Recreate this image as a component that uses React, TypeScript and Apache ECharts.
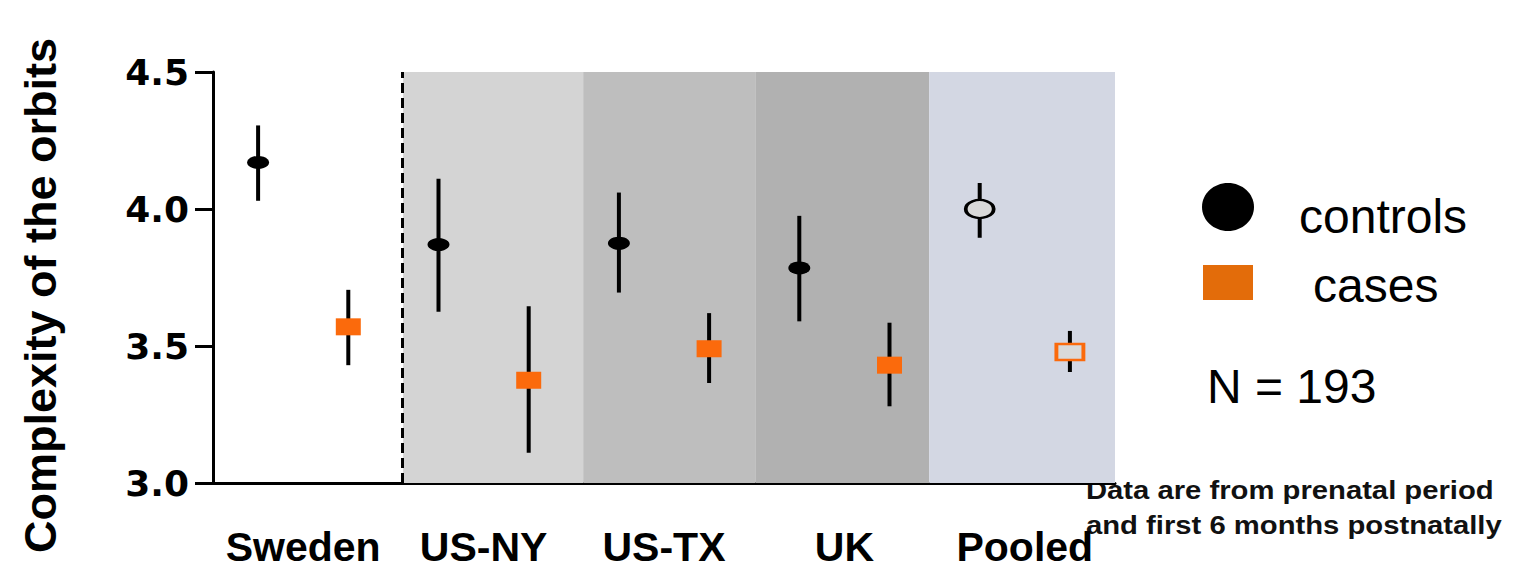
import React, { useEffect, useRef } from "react";
import * as echarts from "echarts";

const categories = ["Sweden", "US-NY", "US-TX", "UK", "Pooled"];
const controlsMean = [4.17, 3.87, 3.875, 3.785, 4.0];
const controlsLow = [4.03, 3.625, 3.695, 3.59, 3.895];
const controlsHigh = [4.305, 4.11, 4.06, 3.975, 4.095];
const casesMean = [3.57, 3.375, 3.49, 3.43, 3.478];
const casesLow = [3.43, 3.11, 3.365, 3.28, 3.405];
const casesHigh = [3.705, 3.645, 3.62, 3.585, 3.555];
const yTicks = [3.0, 3.5, 4.0, 4.5];
// group boundaries in x-axis units (group i centred at i)
const bandEdges = [0.554, 1.552, 2.506, 3.47, 4.5];
const bandColors = ["#d4d4d4", "#bebebe", "#b1b1b1", "#d3d7e3"];

const OFFSET = 0.25;
const ORANGE = "#fb6a0c";
const FONT = "'Liberation Sans', Arial, sans-serif";

export default function App() {
  const ref = useRef<HTMLDivElement>(null);
  useEffect(() => {
    document.body.style.margin = "0";
    const chart = echarts.init(ref.current!, null, { renderer: "svg" });

    const ctrlData = controlsMean.map((v, i) => {
      const d: any = { value: [i - OFFSET, v] };
      if (i === categories.length - 1) {
        d.symbolSize = [28, 18];
        d.itemStyle = { color: "#d9d9d9", borderColor: "#000", borderWidth: 3 };
      }
      return d;
    });
    const caseData = casesMean.map((v, i) => {
      const d: any = { value: [i + OFFSET, v] };
      if (i === categories.length - 1) {
        d.symbolSize = [27, 16];
        d.itemStyle = { color: "#d9d9d9", borderColor: ORANGE, borderWidth: 3 };
      }
      return d;
    });
    const errData = [
      ...controlsLow.map((lo, i) => [i - OFFSET, lo, controlsHigh[i]]),
      ...casesLow.map((lo, i) => [i + OFFSET, lo, casesHigh[i]]),
    ];

    const bands = bandColors.map((c, i) => [
      { xAxis: bandEdges[i], itemStyle: { color: c, opacity: 1 } },
      { xAxis: bandEdges[i + 1] },
    ]);

    chart.setOption({
      animation: false,
      grid: { left: 213, right: 409, top: 72, bottom: 93, containLabel: false },
      xAxis: [
        { type: "value", min: -0.5, max: 4.5, show: false },
        {
          type: "category",
          data: categories,
          boundaryGap: true,
          position: "bottom",
          axisLine: { show: true, onZero: false, lineStyle: { color: "#000", width: 3 } },
          axisTick: { show: false },
          axisLabel: {
            interval: 0,
            color: "#000",
            fontSize: 41,
            fontWeight: "bold",
            fontFamily: FONT,
            margin: 43,
          },
          splitLine: { show: false },
        },
      ],
      yAxis: {
        type: "value",
        min: yTicks[0],
        max: yTicks[yTicks.length - 1],
        interval: 0.5,
        name: "Complexity of the orbits",
        nameLocation: "middle",
        nameGap: 150,
        nameTextStyle: {
          color: "#000",
          fontSize: 45,
          fontWeight: "bold",
          fontFamily: FONT,
          padding: [0, 36, 0, 0],
        },
        axisLine: { show: true, onZero: false, lineStyle: { color: "#000", width: 3 } },
        axisTick: { show: true, length: 18, lineStyle: { color: "#000", width: 3 } },
        axisLabel: {
          color: "#000",
          fontSize: 36,
          fontWeight: "bold",
          fontFamily: "'DejaVu Sans', sans-serif",
          margin: 24,
          formatter: (v: number) => v.toFixed(1),
        },
        splitLine: { show: false },
      },
      series: [
        {
          type: "custom",
          name: "bands",
          xAxisIndex: 0,
          data: [],
          renderItem: () => null,
          markArea: { silent: true, data: bands },
          markLine: {
            silent: true,
            symbol: "none",
            label: { show: false },
            lineStyle: { color: "#000", width: 3, type: [10, 5] },
            data: [{ xAxis: bandEdges[0] }],
          },
          z: 1,
        },
        {
          type: "custom",
          name: "errors",
          xAxisIndex: 0,
          data: errData,
          z: 3,
          renderItem: (params: any, api: any) => {
            const p1 = api.coord([api.value(0), api.value(1)]);
            const p2 = api.coord([api.value(0), api.value(2)]);
            return {
              type: "line",
              shape: { x1: p1[0], y1: p1[1], x2: p2[0], y2: p2[1] },
              style: { stroke: "#000", lineWidth: 4 },
            };
          },
        },
        {
          type: "scatter",
          name: "controls",
          xAxisIndex: 0,
          symbol: "circle",
          symbolSize: [22, 13],
          itemStyle: { color: "#000", opacity: 1 },
          data: ctrlData,
          z: 5,
        },
        {
          type: "scatter",
          name: "cases",
          xAxisIndex: 0,
          symbol: "rect",
          symbolSize: [25, 17],
          itemStyle: { color: ORANGE, opacity: 1 },
          data: caseData,
          z: 5,
        },
      ],
      graphic: [
        { type: "ellipse", shape: { cx: 1228, cy: 207, rx: 26, ry: 24 }, style: { fill: "#000" } },
        { type: "rect", shape: { x: 1203, y: 265, width: 50, height: 35 }, style: { fill: "#e36c0a" } },
        {
          type: "text",
          style: { text: "controls", x: 1299, y: 216, fontSize: 48, fontFamily: FONT, fill: "#000", verticalAlign: "middle" },
        },
        {
          type: "text",
          style: { text: "cases", x: 1313, y: 285, fontSize: 48, fontFamily: FONT, fill: "#000", verticalAlign: "middle" },
        },
        {
          type: "text",
          style: { text: "N = 193", x: 1207, y: 386, fontSize: 48, fontFamily: FONT, fill: "#000", verticalAlign: "middle" },
        },
        {
          type: "text",
          x: 1086,
          y: 508,
          scaleX: 1.17,
          style: {
            text: "Data are from prenatal period\nand first 6 months postnatally",
            x: 0,
            y: 0,
            fontSize: 25,
            fontWeight: "bold",
            lineHeight: 35,
            fontFamily: FONT,
            fill: "#111",
            verticalAlign: "middle",
          },
        },
      ],
    });
    return () => chart.dispose();
  }, []);
  return <div ref={ref} style={{ width: 1524, height: 576 }} />;
}
